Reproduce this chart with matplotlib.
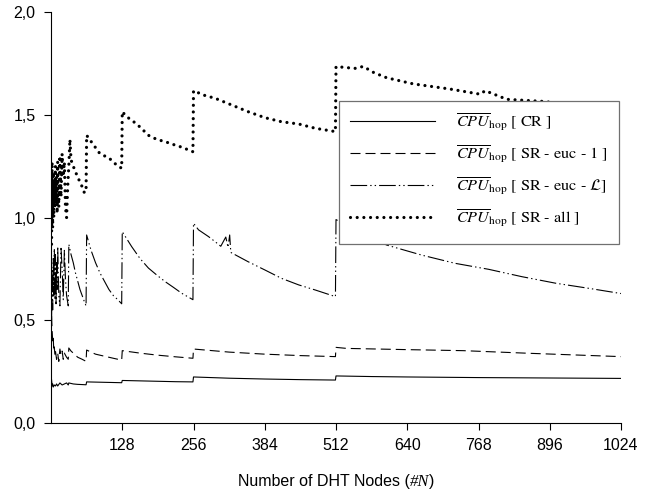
import matplotlib
matplotlib.use("Agg")
import matplotlib.pyplot as plt
from matplotlib.ticker import FuncFormatter
from matplotlib.offsetbox import TextArea, HPacker, AnchoredOffsetbox
from matplotlib.patches import Rectangle

plt.rcParams['mathtext.fontset'] = 'stix'
plt.rcParams['lines.scale_dashes'] = False
plt.rcParams['font.family'] = ['Liberation Sans', 'DejaVu Sans']

# ---------------- data ----------------
x_cr = [1, 2, 3, 4, 6, 8, 10, 12, 16, 20, 24, 28, 31,
        32, 40, 48, 56, 63,
        64, 80, 96, 112, 127,
        128, 160, 192, 224, 255,
        256, 320, 384, 448, 511,
        512, 576, 640, 768, 896, 1024]
y_cr = [0.21, 0.18, 0.19, 0.175, 0.185, 0.18, 0.19, 0.18, 0.195, 0.185, 0.19, 0.195, 0.185,
        0.195, 0.19, 0.188, 0.187, 0.186,
        0.200, 0.199, 0.198, 0.197, 0.196,
        0.207, 0.205, 0.203, 0.201, 0.200,
        0.224, 0.218, 0.214, 0.211, 0.209,
        0.229, 0.226, 0.224, 0.221, 0.219, 0.217]

x_e1 = [1, 2, 3, 4, 5, 6, 7, 8, 10, 12, 14, 16, 18, 20, 22, 24, 28, 31,
        32, 36, 40, 44, 48, 56, 63,
        64, 72, 80, 96, 112, 127,
        128, 160, 192, 224, 255,
        256, 320, 384, 448, 511,
        512, 531, 640, 741, 861, 1024]
y_e1 = [0.52, 0.45, 0.40, 0.42, 0.35, 0.37, 0.33, 0.35, 0.31, 0.34, 0.30, 0.36, 0.33, 0.35, 0.31, 0.34, 0.32, 0.31,
        0.365, 0.35, 0.34, 0.33, 0.32, 0.31, 0.30,
        0.355, 0.345, 0.335, 0.325, 0.315, 0.306,
        0.352, 0.34, 0.33, 0.322, 0.315,
        0.36, 0.345, 0.335, 0.328, 0.323,
        0.368, 0.363, 0.357, 0.352, 0.339, 0.323]

x_eL = [1, 2, 3, 4, 5, 6, 7, 8, 9, 10, 11, 12, 14, 16, 18, 20, 22, 24, 26, 28, 31,
        32, 36, 40, 44, 48, 52, 56, 60, 63,
        64, 72, 80, 88, 96, 104, 112, 120, 127,
        128, 145, 160, 175, 190, 205, 220, 235, 255,
        256, 265, 283, 295, 305, 314, 318, 321, 323, 354, 384, 414, 445, 475, 511,
        512, 544, 576, 603, 666, 726, 786, 846, 907, 967, 1024]
y_eL = [0.50, 0.75, 0.55, 0.80, 0.62, 0.85, 0.60, 0.82, 0.58, 0.78, 0.65, 0.86, 0.62, 0.57, 0.85, 0.75, 0.60, 0.84, 0.70, 0.62, 0.57,
        0.87, 0.82, 0.78, 0.73, 0.69, 0.65, 0.62, 0.59, 0.57,
        0.915, 0.84, 0.78, 0.73, 0.69, 0.65, 0.62, 0.60, 0.58,
        0.931, 0.858, 0.80, 0.754, 0.72, 0.688, 0.66, 0.631, 0.60,
        0.972, 0.94, 0.907, 0.882, 0.86, 0.905, 0.855, 0.915, 0.83, 0.785, 0.745, 0.704, 0.672, 0.647, 0.615,
        0.99, 0.94, 0.90, 0.866, 0.817, 0.777, 0.748, 0.712, 0.68, 0.655, 0.63]

x_all = [1, 2, 3, 4, 5, 6, 7, 8, 9, 10, 11, 12, 14, 16, 18, 20, 22, 24, 26, 28, 30,
         32, 34, 36, 40, 44, 48, 52, 56, 60, 63,
         64, 72, 80, 88, 96, 104, 112, 120, 127,
         128, 136, 145, 160, 175, 190, 205, 220, 235, 255,
         256, 275, 295, 325, 354, 384, 414, 445, 475, 511,
         512, 530, 545, 561, 580, 603, 651, 717, 771, 780, 819, 884, 950, 1024]
y_all = [0.87, 1.27, 0.95, 1.22, 1.00, 1.18, 1.05, 1.25, 1.08, 1.20, 1.02, 1.27, 1.05, 1.30, 1.10, 1.31, 1.20, 1.27, 1.05, 1.00, 1.15,
         1.25, 1.38, 1.28, 1.25, 1.22, 1.20, 1.17, 1.15, 1.12, 1.13,
         1.40, 1.37, 1.34, 1.31, 1.30, 1.29, 1.27, 1.25, 1.24,
         1.515, 1.49, 1.474, 1.44, 1.40, 1.38, 1.369, 1.355, 1.342, 1.32,
         1.617, 1.595, 1.58, 1.547, 1.515, 1.486, 1.466, 1.455, 1.434, 1.418,
         1.734, 1.73, 1.725, 1.735, 1.705, 1.68, 1.65, 1.625, 1.60, 1.617, 1.575, 1.565, 1.545, 1.52]

x_ticks = [128, 256, 384, 512, 640, 768, 896, 1024]
y_ticks = [0.0, 0.5, 1.0, 1.5, 2.0]

labels = [r'$\overline{CPU}_{\mathrm{hop}}$ [ CR ]',
          r'$\overline{CPU}_{\mathrm{hop}}$ [ SR - euc - 1 ]',
          r'$\overline{CPU}_{\mathrm{hop}}$ [ SR - euc - $\mathcal{L}$]',
          r'$\overline{CPU}_{\mathrm{hop}}$ [ SR - all ]']
xlabel_parts = ['Number of DHT Nodes (', '#N', ')']

# ---------------- figure ----------------
W, H = 652, 493
AX_L, AX_R, AX_T, AX_B = 51, 621, 12, 423
fig = plt.figure(figsize=(W / 100, H / 100), dpi=100)
ax = fig.add_axes([AX_L / W, (H - AX_B) / H, (AX_R - AX_L) / W, (AX_B - AX_T) / H])


def ax_x(px):
    return (px - AX_L) / (AX_R - AX_L)


def ax_y(py):
    return (AX_B - py) / (AX_B - AX_T)


ax.plot(x_cr, y_cr, color='black', lw=0.8, linestyle='-', label=labels[0])
ax.plot(x_e1, y_e1, color='black', lw=0.8, linestyle=(0, (7.2, 3.6)), label=labels[1])
ax.plot(x_eL, y_eL, color='black', lw=0.8, linestyle=(0, (12, 2.2, 1, 2.2, 1, 2.2)), label=labels[2])
ax.plot(x_all, y_all, color='black', lw=2.3, linestyle=(0, (0.01, 4.8)),
        dash_capstyle='round', label=labels[3])

ax.set_xlim(0, 1024)
ax.set_ylim(0, 2.0)
ax.set_xticks(x_ticks)
ax.set_yticks(y_ticks)
ax.yaxis.set_major_formatter(FuncFormatter(lambda v, p: f"{v:.1f}".replace('.', ',')))
ax.tick_params(direction='out', length=5, width=0.8, labelsize=11.5, pad=6, colors='black')
for s in ['top', 'right']:
    ax.spines[s].set_visible(False)
for s in ['left', 'bottom']:
    ax.spines[s].set_linewidth(0.8)

# x label: sans text with an italic serif "#N"
t1 = TextArea(xlabel_parts[0], textprops=dict(fontsize=11.5, family='Liberation Sans'))
t2 = TextArea(xlabel_parts[1], textprops=dict(fontsize=12, family='Liberation Serif', style='italic'))
t3 = TextArea(xlabel_parts[2], textprops=dict(fontsize=11.5, family='Liberation Sans'))
pack = HPacker(children=[t1, t2, t3], align='baseline', pad=0, sep=0)
ab = AnchoredOffsetbox(loc='center', child=pack, frameon=False,
                       bbox_to_anchor=(0.5, ax_y(482)), bbox_transform=ax.transAxes,
                       borderpad=0, pad=0)
ax.add_artist(ab)

# legend frame drawn as a box: x 339..619, y 101..244 (pixels)
rect = Rectangle((ax_x(339), ax_y(244)), ax_x(619) - ax_x(339), ax_y(101) - ax_y(244),
                 transform=ax.transAxes, facecolor='white', edgecolor='#707070',
                 linewidth=0.9, zorder=4, clip_on=False)
ax.add_patch(rect)
fs = 11.7
leg = ax.legend(loc='center left', bbox_to_anchor=(ax_x(350), ax_y(170)),
                borderaxespad=0, frameon=False, borderpad=0,
                prop={'family': 'STIXGeneral', 'size': fs},
                handlelength=5.23, handletextpad=1.3, labelspacing=0.62)
leg.set_zorder(5)

fig.savefig('out.png', dpi=100)
